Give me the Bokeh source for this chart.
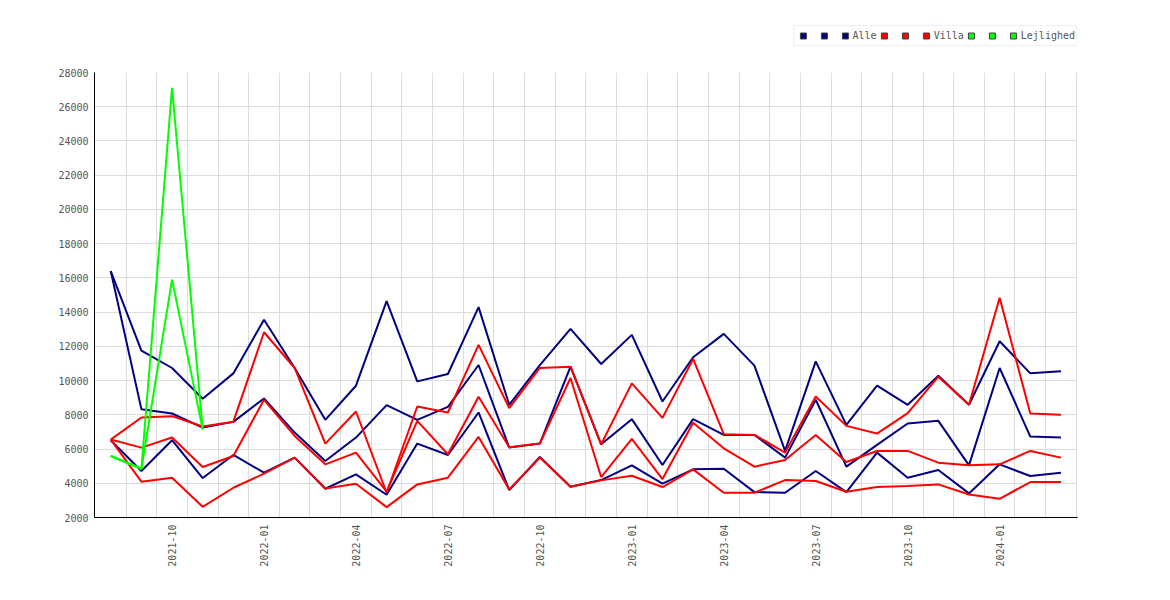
import math
from bokeh.plotting import figure
from bokeh.layouts import column
from bokeh.models import Range1d, FixedTicker, Legend, LegendItem
from bokeh.core.properties import value
from bokeh.embed import file_html
from bokeh.resources import INLINE

NaN = float("nan")

months = ["2021-08", "2021-09", "2021-10", "2021-11", "2021-12",
          "2022-01", "2022-02", "2022-03", "2022-04", "2022-05", "2022-06",
          "2022-07", "2022-08", "2022-09", "2022-10", "2022-11", "2022-12",
          "2023-01", "2023-02", "2023-03", "2023-04", "2023-05", "2023-06",
          "2023-07", "2023-08", "2023-09", "2023-10", "2023-11", "2023-12",
          "2024-01", "2024-02", "2024-03"]

alle_high = [16400, 11750, 10735, 8937, 10420,
             13550, 10735, 7706, 9700, 14640, 9953, 10383, 14291, 8585, 10900, 13021, 10969,
             12669, 8780, 11360, 12727, 10871, 5890, 11125, 7413, 9700, 8585, 10285, 8585,
             12298, 10422, 10539]
alle_mid = [16400, 8331, 8077, 7256, 7588,
            8956, 6963, 5302, 6670, 8565, 7706, 8468, 10910, 6084, 6318, 10813, 6279,
            7745, 5067, 7745, 6826, 6826, 5498, 8878, 4970, 6240, 7491, 7647, 5048,
            10735, 6729, 6670]
alle_low = [6514, 4716, 6514, 4306, 5654,
            4618, 5498, 3680, 4520, 3329, 6318, 5654, 8136, 3602, 5537, 3797, 4188,
            5048, 3974, 4814, 4853, 3485, 3446, 4716, 3485, 5791, 4325, 4775, 3407,
            5107, 4423, 4618]

villa_high = [6553, 7843, 7920, 7315, 7600,
              12825, 10735, 6318, 8194, 3446, 8487, 8136, 12083, 8390, 10735, 10813, 6279,
              9836, 7823, 11262, 6865, 6826, 5790, 9073, 7354, 6905, 8097, 10226, 8585,
              14838, 8077, 8000]
villa_mid = [6553, 6084, 6670, 4951, 5595,
             8878, 6768, 5107, 5791, 3505, 7647, 5693, 9054, 6100, 6318, 10150, 4364,
             6592, 4247, 7530, 6045, 4970, 5361, 6826, 5244, 5889, 5889, 5205, 5048,
             5107, 5889, 5498]
villa_low = [6553, 4091, 4325, 2625, 3739,
             4560, 5498, 3700, 3974, 2606, 3934, 4325, 6709, 3641, 5500, 3797, 4169,
             4442, 3779, 4814, 3446, 3446, 4188, 4130, 3505, 3778, 3837, 3934, 3348,
             3094, 4071, 4071]

lejl_high = [5600, 4850, 27100, 7150] + [NaN] * 28
lejl_mid = [5600, 4850, 15900, 7150] + [NaN] * 28
lejl_low = [5600, 4850] + [NaN] * 30

y_ticks = list(range(2000, 28001, 2000))

legend_labels = ["", "", "Alle", "", "", "Villa", "", "", "Lejlighed"]

NAVY = "#000080"
RED = "#ff0000"
GREEN = "#00ff00"
FONT = "DejaVu Sans Mono"
TXT = "#555555"

x = list(range(len(months)))

# ---- main chart ----
p = figure(frame_width=983, frame_height=445, width=1162, height=546,
           min_border_left=94, min_border_right=85, min_border_top=26, min_border_bottom=75,
           x_range=Range1d(-0.53, 31.54), y_range=Range1d(2000, 28000),
           output_backend="svg", toolbar_location=None, background_fill_color="white",
           border_fill_color="white", outline_line_color=None)

p.xgrid.ticker = FixedTicker(ticks=[i + 0.5 for i in range(len(months))])
p.xgrid.grid_line_color = "#dddddd"
p.ygrid.grid_line_color = "#dddddd"

p.xaxis.ticker = FixedTicker(ticks=[i for i, m in enumerate(months) if m[5:] in ("01", "04", "07", "10")])
p.xaxis.major_label_overrides = {i: m for i, m in enumerate(months)}
p.xaxis.major_label_orientation = math.pi / 2
p.yaxis.ticker = FixedTicker(ticks=y_ticks)
p.yaxis.formatter.use_scientific = False
for ax in (p.xaxis[0], p.yaxis[0]):
    ax.axis_line_color = "black"
    ax.axis_line_width = 1
    ax.major_tick_line_color = None
    ax.minor_tick_line_color = None
    ax.major_tick_out = 0
    ax.major_tick_in = 0
    ax.minor_tick_out = 0
    ax.minor_tick_in = 0
    ax.major_label_text_font = FONT
    ax.major_label_text_font_size = "10px"
    ax.major_label_text_color = TXT
ax_x, ax_y = p.xaxis[0], p.yaxis[0]
ax_x.major_label_standoff = 7
ax_y.major_label_standoff = 6

series = [
    (alle_low, NAVY), (alle_mid, NAVY), (alle_high, NAVY),
    (villa_low, RED), (villa_mid, RED), (villa_high, RED),
    (lejl_low, GREEN), (lejl_mid, GREEN), (lejl_high, GREEN),
]
for ys, col in series:
    p.line(x, ys, line_color=col, line_width=2)

# ---- legend strip above the chart ----
lf = figure(frame_width=1077, frame_height=46, width=1077, height=46, min_border=0,
            x_range=Range1d(0, 1), y_range=Range1d(0, 1),
            x_axis_location=None, y_axis_location=None,
            output_backend="svg", toolbar_location=None, outline_line_color=None,
            background_fill_color="white", border_fill_color="white")
lf.xgrid.visible = False
lf.ygrid.visible = False

items = []
colors = [NAVY] * 3 + [RED] * 3 + [GREEN] * 3
for lab, col in zip(legend_labels, colors):
    r = lf.scatter(x=[NaN], y=[NaN], marker="square", fill_color=col,
                   line_color="#444444", line_width=1)
    items.append(LegendItem(label=value(lab if lab else "\u00a0"), renderers=[r]))

legend = Legend(items=items, orientation="horizontal", location="bottom_right",
                glyph_width=15, glyph_height=17, label_standoff=0, spacing=0,
                label_width=0, label_height=12,
                label_text_font=FONT, label_text_font_size="10px", label_text_color=TXT,
                padding=1, margin=0,
                border_line_color="#dddddd", border_line_width=1,
                background_fill_color="white", background_fill_alpha=1)
lf.add_layout(legend, "center")

page = column(lf, p, spacing=0)
open("out.html", "w").write(file_html(page, INLINE))
